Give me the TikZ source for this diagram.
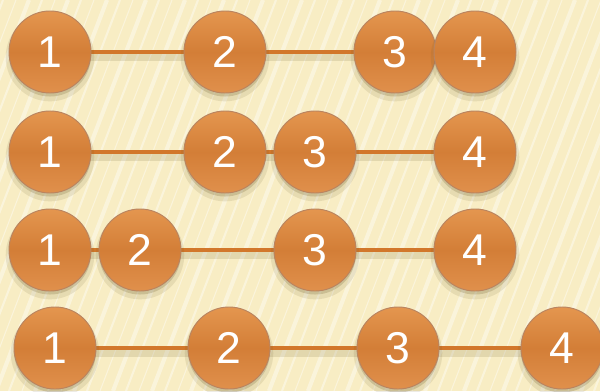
\documentclass[tikz,border=0pt]{standalone}
\usepackage{fontspec}
\setmainfont{Liberation Sans}
\usetikzlibrary{shadows}
\definecolor{bgyel}{HTML}{F8EDC4}
\definecolor{linecol}{HTML}{D2772B}
\definecolor{balltop}{HTML}{E4964F}
\definecolor{ballmid}{HTML}{D37E37}
\definecolor{ballbot}{HTML}{E0904C}
\definecolor{ballrim}{HTML}{B98460}
\definecolor{shadowcol}{HTML}{6B5A2A}
\pgfdeclarelayer{bglayer}
\pgfdeclarelayer{linklayer}
\pgfsetlayers{bglayer,linklayer,main}
\tikzset{
  ballnode/.style={circle, minimum size=2.46cm, inner sep=0pt,
    top color=balltop, bottom color=ballbot, middle color=ballmid,
    draw=ballrim, line width=0.8pt, text=white,
    font=\fontsize{38}{40}\selectfont,
    drop shadow={opacity=0.12, shadow scale=1.08, shadow xshift=0pt, shadow yshift=-4pt, fill=shadowcol},
    drop shadow={opacity=0.22, shadow xshift=0pt, shadow yshift=-3pt, fill=shadowcol}},
  link/.style={draw=linecol, line width=3.4pt},
  linkshadow/.style={draw=shadowcol, line width=6pt, opacity=0.15},
  stripe/.style={draw=white, opacity=0.4},
}
\begin{document}
\begin{tikzpicture}[x=0.03cm, y=-0.03cm]
\useasboundingbox (0,0) rectangle (600,391);
\begin{pgfonlayer}{bglayer}
\fill[bgyel] (0,0) rectangle (600,391);
\begin{scope}
\clip (0,0) rectangle (600,391);
\foreach \i in {0,...,60} {
  \pgfmathsetmacro{\xx}{-160+\i*13}
  \pgfmathsetmacro{\ww}{mod(\i,3)==0 ? 3.5 : (mod(\i,3)==1 ? 1.8 : 0.9)}
  \draw[stripe, line width=\ww pt] (\xx,391) -- (\xx+150,0);
}
\end{scope}
\end{pgfonlayer}
% row 1
\node[ballnode] (a1) at (50,52) {1};
\node[ballnode] (a2) at (225,52) {2};
\node[ballnode] (a3) at (395,52) {3};
\node[ballnode] (a4) at (475,52) {4};
% row 2
\node[ballnode] (b1) at (50,152) {1};
\node[ballnode] (b2) at (225,152) {2};
\node[ballnode] (b3) at (315,152) {3};
\node[ballnode] (b4) at (475,152) {4};
% row 3
\node[ballnode] (c1) at (50,250) {1};
\node[ballnode] (c2) at (140,250) {2};
\node[ballnode] (c3) at (315,250) {3};
\node[ballnode] (c4) at (475,250) {4};
% row 4
\node[ballnode] (d1) at (55,348) {1};
\node[ballnode] (d2) at (229,348) {2};
\node[ballnode] (d3) at (398,348) {3};
\node[ballnode] (d4) at (562,348) {4};
\begin{pgfonlayer}{linklayer}
\foreach \p/\q in {a1/a2,a2/a3,a3/a4,b1/b2,b2/b3,b3/b4,c1/c2,c2/c3,c3/c4,d1/d2,d2/d3,d3/d4} {
  \draw[linkshadow] ([yshift=-5pt]\p.center) -- ([yshift=-5pt]\q.center);
  \draw[link] (\p.center) -- (\q.center);
}
\end{pgfonlayer}
\end{tikzpicture}
\end{document}
